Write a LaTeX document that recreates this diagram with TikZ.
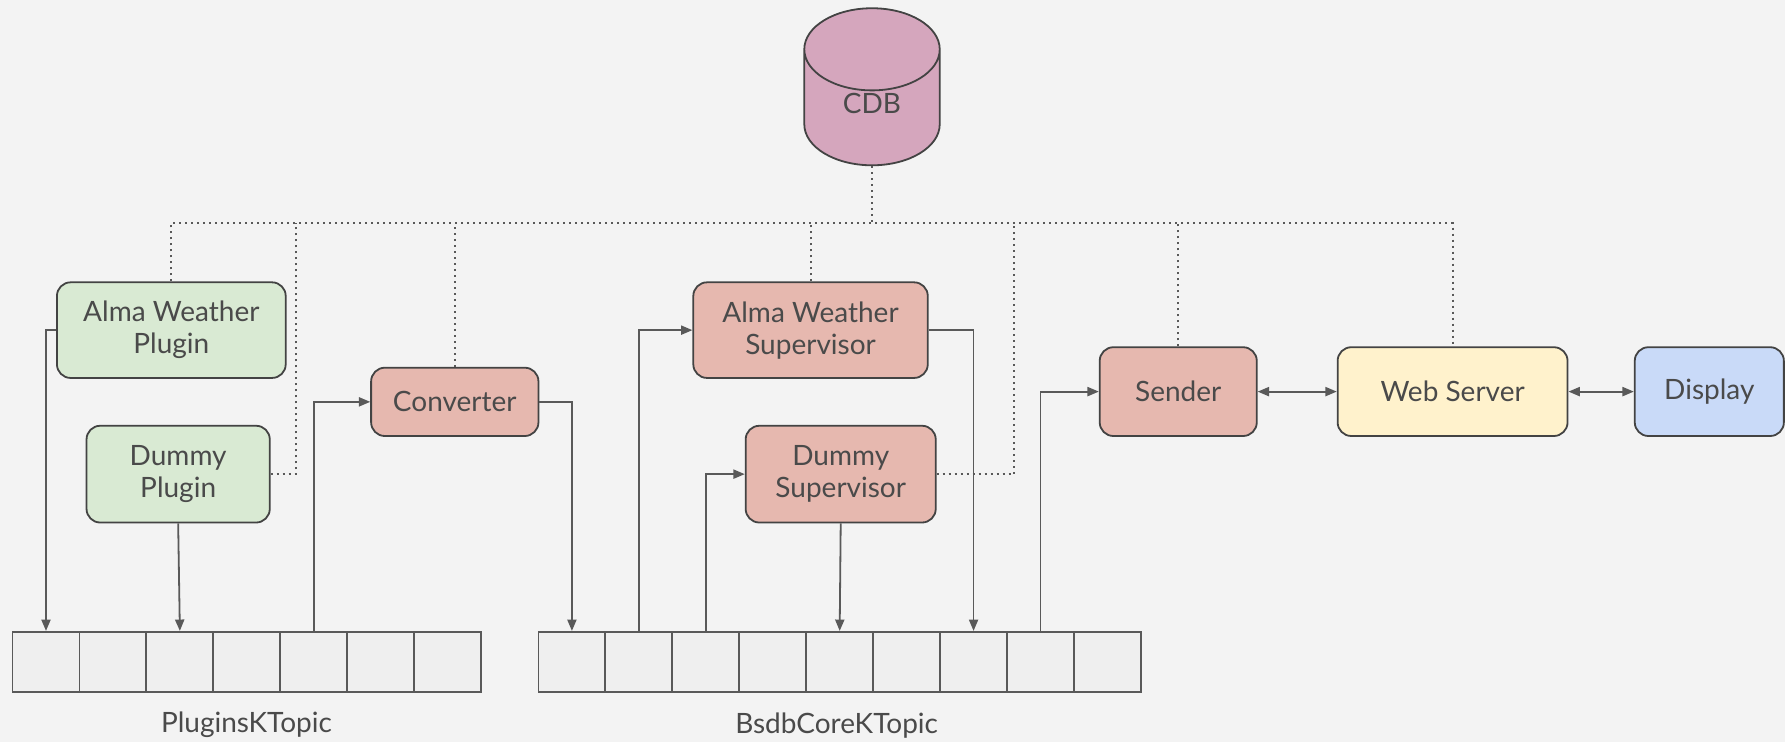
\documentclass[tikz,border=0pt]{standalone}
\usepackage{fontspec}
\setmainfont{Lato}
\usetikzlibrary{shapes.geometric}
\usetikzlibrary{arrows.meta}
\usetikzlibrary{positioning}
\definecolor{bgcol}{HTML}{F3F3F3}
\definecolor{edgecol}{HTML}{434343}
\definecolor{wirecol}{HTML}{595959}
\definecolor{txtcol}{HTML}{4A4A4A}
\definecolor{plugfill}{HTML}{D9EAD3}
\definecolor{supfill}{HTML}{E6B8AF}
\definecolor{cdbfill}{HTML}{D5A6BD}
\definecolor{webfill}{HTML}{FFF2CC}
\definecolor{dispfill}{HTML}{C9DAF8}
\definecolor{cellfill}{HTML}{EFEFEF}

\begin{document}
\begin{tikzpicture}[x=0.02cm, y=-0.02cm,
    every node/.style={text=txtcol, font=\fontsize{14}{16}\selectfont, align=center},
    box/.style={draw=edgecol, line width=0.9pt, rounded corners=0.24cm, inner sep=0pt},
    cell/.style={draw=wirecol, line width=0.9pt, fill=cellfill, minimum width=1.176cm, minimum height=1.06cm, inner sep=0pt},
    wire/.style={draw=wirecol, line width=0.9pt, -{Triangle[length=2mm, width=1.6mm]}},
    both/.style={draw=wirecol, line width=0.9pt, {Triangle[length=2mm, width=1.6mm]}-{Triangle[length=2mm, width=1.6mm]}},
    config/.style={draw=wirecol, line width=1pt, dotted}]
    \useasboundingbox (0,0) rectangle (1568,652);
    \fill[bgcol] (0,0) rectangle (1568,652);
    \clip (0,0) rectangle (1568,652);
    % configuration database
    \node[cylinder, shape border rotate=90, aspect=1.15, draw=edgecol, line width=0.9pt, fill=cdbfill, minimum width=2.38cm, minimum height=2.76cm, text height=0pt, text depth=0.12cm, anchor=south] (cdb) at (766,146) {CDB};
    % plugins and supervisors
    \node[box, fill=plugfill, minimum width=4.02cm, minimum height=1.68cm] (apl) at (150.5,290) {Alma Weather\\Plugin};
    \node[box, fill=plugfill, minimum width=3.22cm, minimum height=1.7cm] (dpl) at (156.5,416.5) {Dummy\\Plugin};
    \node[box, fill=supfill, minimum width=2.94cm, minimum height=1.2cm] (conv) at (399.5,353) {Converter};
    \node[box, fill=supfill, minimum width=4.12cm, minimum height=1.68cm] (asup) at (712,290) {Alma Weather\\Supervisor};
    \node[box, fill=supfill, minimum width=3.34cm, minimum height=1.7cm] (dsup) at (738.5,416.5) {Dummy\\Supervisor};
    \node[box, fill=supfill, minimum width=2.76cm, minimum height=1.56cm] (send) at (1035,344) {Sender};
    \node[box, fill=webfill, minimum width=4.04cm, minimum height=1.56cm] (web) at (1276,344) {Web Server};
    \node[box, fill=dispfill, minimum width=2.62cm, minimum height=1.56cm] (disp) at (1501.5,344) {Display};
    % plugins topic
    \node[cell] (pq1) at (40.4,581.5) {};
    \node[cell] (pq2) at (99.2,581.5) {};
    \node[cell] (pq3) at (158.0,581.5) {};
    \node[cell] (pq4) at (216.8,581.5) {};
    \node[cell] (pq5) at (275.6,581.5) {};
    \node[cell] (pq6) at (334.4,581.5) {};
    \node[cell] (pq7) at (393.2,581.5) {};
    \node (ptopic) at (216.5,637) {PluginsKTopic};
    % core topic
    \node[cell] (cq1) at (502.4,581.5) {};
    \node[cell] (cq2) at (561.2,581.5) {};
    \node[cell] (cq3) at (620.0,581.5) {};
    \node[cell] (cq4) at (678.8,581.5) {};
    \node[cell] (cq5) at (737.6,581.5) {};
    \node[cell] (cq6) at (796.4,581.5) {};
    \node[cell] (cq7) at (855.2,581.5) {};
    \node[cell] (cq8) at (914.0,581.5) {};
    \node[cell] (cq9) at (972.8,581.5) {};
    \node (ctopic) at (735,637) {BsdbCoreKTopic};
    % dotted links to the CDB
    \coordinate (bus) at (766,196);
    \coordinate (dplbend) at (260,196);
    \coordinate (dsupbend) at (891,196);
    \draw[config] (cdb.south) -- (bus);
    \draw[config] (apl.north) |- (bus) -| (web.north);
    \draw[config] (dpl.east) -| (dplbend);
    \draw[config] (conv.north) -- (conv.north |- bus);
    \draw[config] (asup.north) -- (asup.north |- bus);
    \draw[config] (dsup.east) -| (dsupbend);
    \draw[config] (send.north) -- (send.north |- bus);
    % data flow
    \draw[wire] (apl.west) -| (pq1.north);
    \draw[wire] (dpl.south) -- (pq3.north);
    \draw[wire] (pq5.north) |- (conv.west);
    \draw[wire] (conv.east) -| (cq1.north);
    \draw[wire] (cq2.north) |- (asup.west);
    \draw[wire] (cq3.north) |- (dsup.west);
    \draw[wire] (dsup.south) -- (cq5.north);
    \draw[wire] (asup.east) -| (cq7.north);
    \draw[wire] (cq8.north) |- (send.west);
    \draw[both] (send) -- (web);
    \draw[both] (web) -- (disp);
\end{tikzpicture}
\end{document}
